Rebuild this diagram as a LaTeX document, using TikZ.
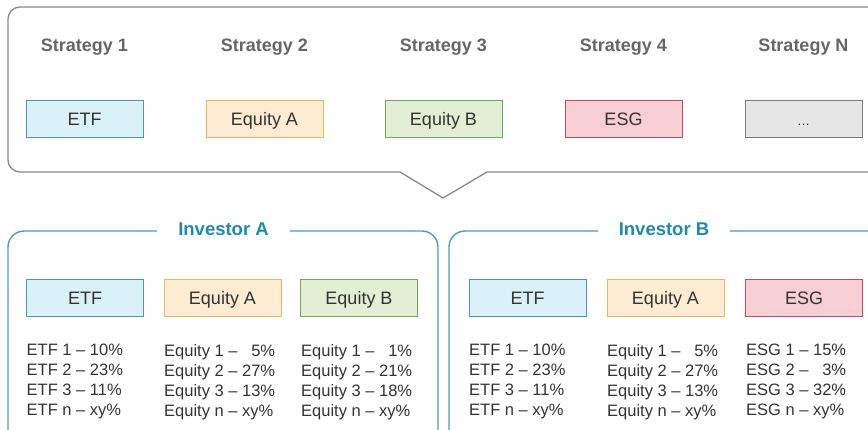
\documentclass[tikz,border=0pt]{standalone}
\usepackage{fontspec}
\setmainfont{Liberation Sans}

\definecolor{etfline}{HTML}{4A98AF}
\definecolor{etffill}{HTML}{DAF2F7}
\definecolor{eqaline}{HTML}{EDB65C}
\definecolor{eqafill}{HTML}{FDEBD2}
\definecolor{eqbline}{HTML}{6EAA57}
\definecolor{eqbfill}{HTML}{E2EFD4}
\definecolor{esgline}{HTML}{C04A6B}
\definecolor{esgfill}{HTML}{F8CED5}
\definecolor{moreline}{HTML}{7A7A7A}
\definecolor{morefill}{HTML}{E6E6E6}
\definecolor{calloutgray}{HTML}{8A8A8A}
\definecolor{stratgray}{HTML}{666666}
\definecolor{txtgray}{HTML}{333333}
\definecolor{invblue}{HTML}{1C8BB2}
\definecolor{invline}{HTML}{4B9DB6}

\tikzset{
assetbox/.style={draw, line width=1pt, minimum width=117pt, minimum height=37pt, inner sep=0pt,
  text height=13pt, text depth=0pt, font=\fontsize{18}{20}\selectfont, text=txtgray},
etfbox/.style={assetbox, draw=etfline, fill=etffill},
eqabox/.style={assetbox, draw=eqaline, fill=eqafill},
eqbbox/.style={assetbox, draw=eqbline, fill=eqbfill},
esgbox/.style={assetbox, draw=esgline, fill=esgfill},
morebox/.style={assetbox, draw=moreline, fill=morefill},
stratlabel/.style={anchor=base, inner sep=0pt, font=\fontsize{18}{20}\selectfont\bfseries, text=stratgray},
invtitle/.style={anchor=base, fill=white, inner xsep=21pt, inner ysep=2pt,
  font=\fontsize{18.5}{20}\selectfont\bfseries, text=invblue},
holdings/.style={anchor=north west, inner sep=0pt, align=left,
  font=\fontsize{16.5}{20}\selectfont, text=txtgray},
invframe/.style={draw=invline, line width=1.4pt, rounded corners=16pt}
}

\begin{document}
\begin{tikzpicture}[x=1pt,y=1pt,yscale=-1,xscale=1]
\useasboundingbox (0,0) rectangle (868,429);
\clip (0,0) rectangle (868,429);

%Callout with the strategies
\draw [draw=calloutgray, line width=1.3pt, line join=round]
  (487,172) -- (890,172) -- (890,7) [rounded corners=12pt] -- (8,7) -- (8,172) [sharp corners] -- (400,172) -- (443,198) -- cycle ;

% Strategy titles
\foreach \n/\x in {1/84.5, 2/264.5, 3/443.5, 4/623.5, N/803.5}
  \node [stratlabel] (strat\n) at (\x,51) {Strategy \n};

% Strategy boxes
\node [etfbox] (topetf) at (84.5,118.5) {ETF};
\node [eqabox] (topeqa) at (264.5,118.5) {Equity A};
\node [eqbbox] (topeqb) at (443.5,118.5) {Equity B};
\node [esgbox] (topesg) at (623.5,118.5) {ESG};
\node [morebox] (topmore) at (803.5,118.5) {\fontsize{13}{14}\selectfont\dots};

%Investor A
\draw [invframe] (8,231) rectangle (438,460) ;
\node [invtitle] (invA) at (223.5,235) {Investor A};
\node [etfbox] (aetf) at (85,298) {ETF};
\node [eqabox] (aeqa) at (222.5,298) {Equity A};
\node [eqbbox] (aeqb) at (359,298) {Equity B};
\node [holdings] (aetflist) at (26.5,344) {ETF 1 -- 10\%\\ETF 2 -- 23\%\\ETF 3 -- 11\%\\ETF n -- xy\%};
\node [holdings] (aeqalist) at (164,344) {Equity 1 -- \phantom{0}5\%\\Equity 2 -- 27\%\\Equity 3 -- 13\%\\Equity n -- xy\%};
\node [holdings] (aeqblist) at (301,344) {Equity 1 -- \phantom{0}1\%\\Equity 2 -- 21\%\\Equity 3 -- 18\%\\Equity n -- xy\%};

%Investor B
\draw [invframe] (449,231) rectangle (890,460) ;
\node [invtitle] (invB) at (664,235) {Investor B};
\node [etfbox] (betf) at (527.5,297.5) {ETF};
\node [eqabox] (beqa) at (665.5,297.5) {Equity A};
\node [esgbox] (besg) at (804,297.5) {ESG};
\node [holdings] (betflist) at (469,344) {ETF 1 -- 10\%\\ETF 2 -- 23\%\\ETF 3 -- 11\%\\ETF n -- xy\%};
\node [holdings] (beqalist) at (607,344) {Equity 1 -- \phantom{0}5\%\\Equity 2 -- 27\%\\Equity 3 -- 13\%\\Equity n -- xy\%};
\node [holdings] (besglist) at (746,344) {ESG 1 -- 15\%\\ESG 2 -- \phantom{0}3\%\\ESG 3 -- 32\%\\ESG n -- xy\%};

\end{tikzpicture}
\end{document}
